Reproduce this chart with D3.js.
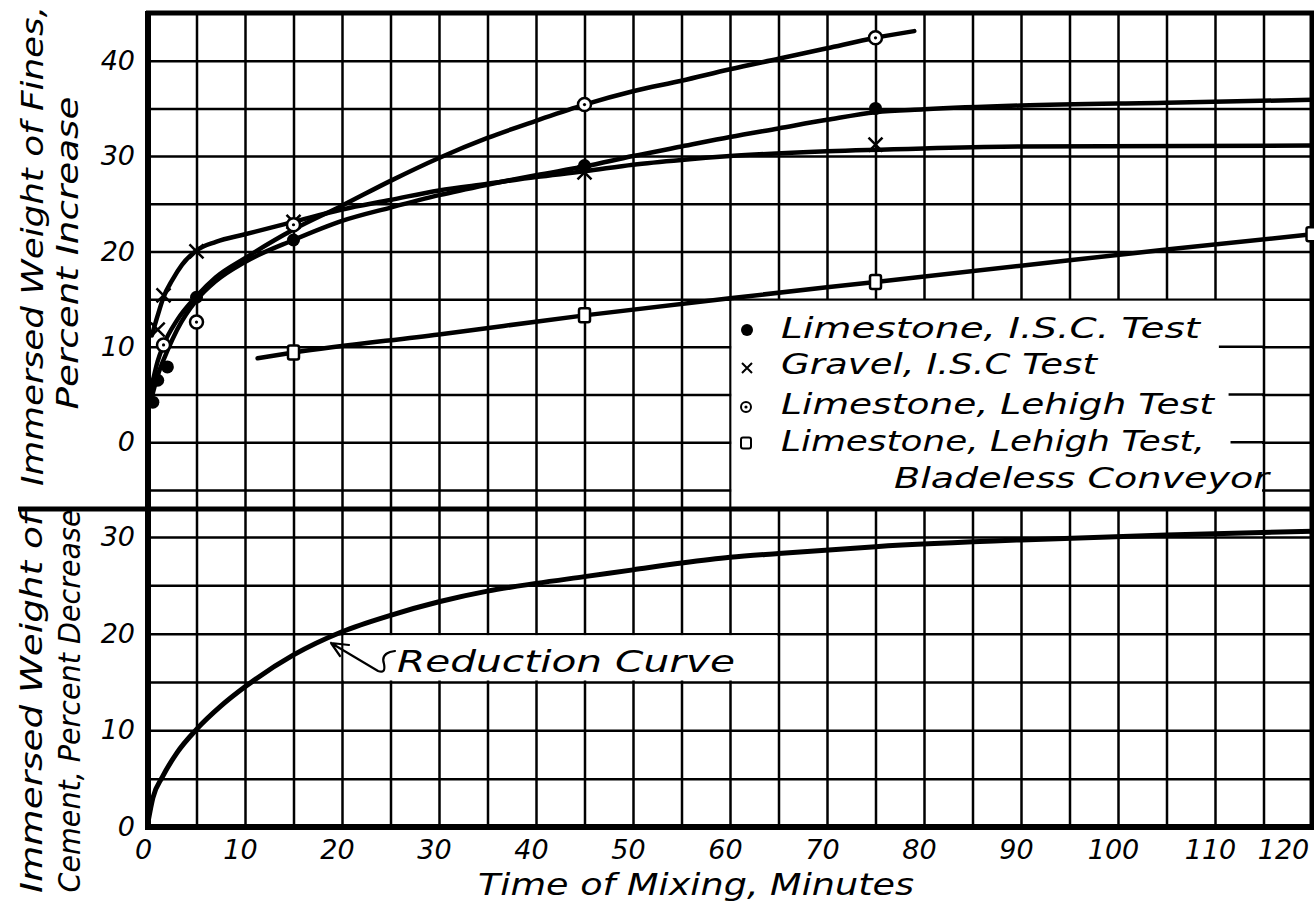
<!DOCTYPE html>
<html><head><meta charset="utf-8">
<script src="https://cdn.jsdelivr.net/npm/d3@7"></script>
<style>
body{margin:0;background:#fff}
svg{display:block;background:#fff}
text{font-family:"DejaVu Sans",sans-serif;font-style:italic;fill:#000}
.grid line{stroke:#000;stroke-width:2.5}
.grid path{display:none}
.lab path{display:none}
</style></head><body>
<svg id="c" width="1314" height="909"></svg>
<script>
// ---- data ----
const xTicks = [0,10,20,30,40,50,60,70,80,90,100,110,120];
const xGrid = [5,10,15,20,25,30,35,40,45,50,55,60,65,70,75,80,85,90,95,100,105,110,115];
const topTicks = [0,10,20,30,40];
const topGrid = [-5,0,5,10,15,20,25,30,35,40];
const botTicks = [0,10,20,30];
const botGrid = [5,10,15,20,25,30];
const legendLabels = ["Limestone, I.S.C. Test","Gravel, I.S.C Test","Limestone, Lehigh Test","Limestone, Lehigh Test,","Bladeless Conveyor"];
// measured points (minutes, %)
const limestoneISCPts = [[0.5,4.2],[1,6.5],[2,7.9],[5,15.2],[15,21.2],[45,29],[75,35]];
const gravelISCPts = [[1,11.8],[1.6,15.4],[5,20],[15,23.1],[45,28.3],[75,31.2]];
const lehighPts = [[1.6,10.2],[5,12.6],[15,22.8],[45,35.4],[75,42.4]];
const bladelessPts = [[15,9.4],[45,13.3],[75,16.8],[120,21.8]];
// hand-drawn fitted curves
const limestoneISCCurve = [[0.2,4],[1,7],[2,9.6],[3,11.8],[5,14.9],[7,16.9],[10,18.9],[15,21.2],[20,23.2],[25,24.6],[30,25.9],[35,27],[40,28],[45,28.9],[50,30],[55,31],[60,32],[65,32.9],[70,33.8],[75,34.6],[80,34.9],[90,35.3],[105,35.6],[120,35.9]];
const gravelISCCurve = [[0.4,11.2],[1,13.3],[1.6,15.2],[2.5,17],[3.5,18.6],[5,20.1],[7,21],[10,21.8],[15,23.1],[20,24.4],[25,25.4],[30,26.4],[35,27.1],[40,27.8],[45,28.4],[50,29.1],[55,29.6],[60,30],[70,30.5],[80,30.8],[90,31],[120,31.1]];
const lehighCurve = [[0.3,5.5],[1,8.5],[1.6,10.2],[3,12.8],[5,15.3],[7,17.3],[10,19.3],[15,22.3],[20,24.8],[25,27.4],[30,29.8],[35,31.9],[40,33.7],[45,35.4],[50,36.8],[55,37.9],[60,39.1],[65,40.2],[70,41.3],[75,42.4],[79,43.1]];
const bladelessCurve = [[11.3,8.8],[15,9.4],[30,11.3],[45,13.3],[60,15.1],[75,16.8],[90,18.5],[105,20.2],[120,21.8]];
const reductionCurve = [[0,0.5],[0.5,3],[1.5,5.2],[3,7.7],[5,10.1],[7.5,12.5],[10,14.5],[15,17.8],[20,20.2],[25,21.9],[30,23.3],[35,24.4],[40,25.2],[45,25.9],[50,26.6],[55,27.3],[60,27.9],[65,28.3],[75,29],[90,29.7],[105,30.2],[120,30.6]];
const legendGapSegments = [[10,110.4],[5,111.4],[0,111.6]]; // gridline value, start minute

// ---- scales ----
const svg = d3.select("#c");
const x = d3.scaleLinear().domain([0,120]).range([148,1312]);
const yTop = d3.scaleLinear().domain([-7,45]).range([509,13]);
const yBot = d3.scaleLinear().domain([0,33]).range([827,508]);

// ---- grid ----
svg.append("g").attr("class","grid").attr("transform","translate(0,827)")
  .call(d3.axisBottom(x).tickValues(xGrid).tickSize(-(827-13)).tickFormat(""));
svg.append("g").attr("class","grid").attr("transform","translate(148,0)")
  .call(d3.axisLeft(yTop).tickValues(topGrid).tickSize(-(1312-148)).tickFormat(""));
svg.append("g").attr("class","grid").attr("transform","translate(148,0)")
  .call(d3.axisLeft(yBot).tickValues(botGrid).tickSize(-(1312-148)).tickFormat(""));

// white boxes for legend and reduction label
svg.append("rect").attr("x",x(60)+1.5).attr("y",yTop(15)+1.5)
  .attr("width",x(115)-x(60)-3).attr("height",509-yTop(15)-3).attr("fill","#fff");
legendGapSegments.forEach(([v,s])=>{
  svg.append("line").attr("x1",x(s)).attr("x2",x(115)).attr("y1",yTop(v)).attr("y2",yTop(v))
    .attr("stroke","#000").attr("stroke-width",2.5);
});
svg.append("rect").attr("x",x(20)+1.5).attr("y",yBot(20)+1.5)
  .attr("width",x(65)-x(20)-3).attr("height",yBot(15)-yBot(20)-3).attr("fill","#fff");

// ---- frame ----
const frame = svg.append("g").attr("stroke","#000").attr("fill","none");
frame.append("line").attr("x1",146).attr("x2",1314).attr("y1",13).attr("y2",13).attr("stroke-width",5);
frame.append("line").attr("x1",148).attr("x2",148).attr("y1",11).attr("y2",830).attr("stroke-width",6);
frame.append("line").attr("x1",145).attr("x2",1314).attr("y1",827).attr("y2",827).attr("stroke-width",6);
frame.append("line").attr("x1",1312).attr("x2",1312).attr("y1",11).attr("y2",830).attr("stroke-width",5);
frame.append("line").attr("x1",18).attr("x2",1314).attr("y1",509).attr("y2",509).attr("stroke-width",5);

// ---- curves ----
const lineTop = d3.line().x(d=>x(d[0])).y(d=>yTop(d[1])).curve(d3.curveMonotoneX);
const lineBot = d3.line().x(d=>x(d[0])).y(d=>yBot(d[1])).curve(d3.curveMonotoneX);
const cg = svg.append("g").attr("fill","none").attr("stroke","#000").attr("stroke-linecap","round");
[limestoneISCCurve, gravelISCCurve, lehighCurve, bladelessCurve].forEach(c=>{
  cg.append("path").attr("d",lineTop(c)).attr("stroke-width",4.5);
});
cg.append("path").attr("d",lineBot(reductionCurve)).attr("stroke-width",5);

// ---- markers ----
function dot(g,cx,cy,r){g.append("circle").attr("cx",cx).attr("cy",cy).attr("r",r).attr("fill","#000");}
function cross(g,cx,cy,s,w){
  g.append("path").attr("d",`M${cx-s},${cy-s}L${cx+s},${cy+s}M${cx-s},${cy+s}L${cx+s},${cy-s}`)
   .attr("stroke","#000").attr("stroke-width",w);
}
function ring(g,cx,cy,r,w){
  g.append("circle").attr("cx",cx).attr("cy",cy).attr("r",r).attr("fill","#fff").attr("stroke","#000").attr("stroke-width",w);
  g.append("circle").attr("cx",cx).attr("cy",cy).attr("r",1.6).attr("fill","#000");
}
function square(g,cx,cy,w,h,sw){
  g.append("rect").attr("x",cx-w/2).attr("y",cy-h/2).attr("width",w).attr("height",h).attr("rx",2)
   .attr("fill","#fff").attr("stroke","#000").attr("stroke-width",sw);
}
const mg = svg.append("g");
limestoneISCPts.forEach(d=>dot(mg,x(d[0]),yTop(d[1]),6.5));
gravelISCPts.forEach(d=>cross(mg,x(d[0]),yTop(d[1]),7,2.5));
lehighPts.forEach(d=>ring(mg,x(d[0]),yTop(d[1]),6.5,2.5));
bladelessPts.forEach(d=>square(mg,x(d[0]),yTop(d[1]),11,14,2.5));

// ---- legend ----
const lg = svg.append("g");
const legRows = [338,374,414,451,488];
const legLen = [419,316,433,424,375];
dot(lg,747,330,6);
cross(lg,747,368,5,2);
ring(lg,746,407,5,2);
square(lg,746,443,10,11,2);
legendLabels.forEach((t,i)=>{
  lg.append("text").attr("x", i===4?894:781).attr("y",legRows[i])
    .attr("font-size",29).attr("textLength",legLen[i]).attr("lengthAdjust","spacingAndGlyphs").text(t);
});

// ---- reduction label & leader ----
svg.append("text").attr("x",397).attr("y",672).attr("font-size",30)
  .attr("textLength",338).attr("lengthAdjust","spacingAndGlyphs").text("Reduction Curve");
svg.append("path").attr("d","M331,643 L378,671 Q386,674 384,664 Q381,655 390,652 L395,651 M331,643 L349,645 M331,643 L340,656")
  .attr("fill","none").attr("stroke","#000").attr("stroke-width",2.2).attr("stroke-linecap","round");

// ---- tick labels ----
const xl = svg.append("g").attr("class","lab").attr("transform","translate(0,827)")
  .call(d3.axisBottom(x).tickValues(xTicks).tickSize(0).tickFormat(d3.format("d")));
xl.selectAll("text").attr("y",32).attr("dy",0).attr("x",d=>d===120?-29:-5);
const yl1 = svg.append("g").attr("class","lab").attr("transform","translate(148,0)")
  .call(d3.axisLeft(yTop).tickValues(topTicks).tickSize(0).tickPadding(13));
const yl2 = svg.append("g").attr("class","lab").attr("transform","translate(148,0)")
  .call(d3.axisLeft(yBot).tickValues(botTicks).tickSize(0).tickPadding(13));
svg.selectAll(".lab text").attr("font-size",27).attr("fill","#000")
  .style("font-family",'"DejaVu Sans",sans-serif').style("font-style","italic");

// ---- axis titles ----
function vtext(t,bx,cy,len){
  svg.append("text").attr("transform",`translate(${bx},${cy}) rotate(-90)`).attr("text-anchor","middle")
    .attr("font-size",31).attr("textLength",len).attr("lengthAdjust","spacingAndGlyphs").text(t);
}
vtext("Immersed Weight of Fines,",43,246,480);
vtext("Percent Increase",78,253,313);
vtext("Immersed Weight of",42,703,380);
vtext("Cement, Percent Decrease",80,701,383);
svg.append("text").attr("x",696).attr("y",895).attr("text-anchor","middle").attr("font-size",31)
  .attr("textLength",436).attr("lengthAdjust","spacingAndGlyphs").text("Time of Mixing, Minutes");
</script>
</body></html>
